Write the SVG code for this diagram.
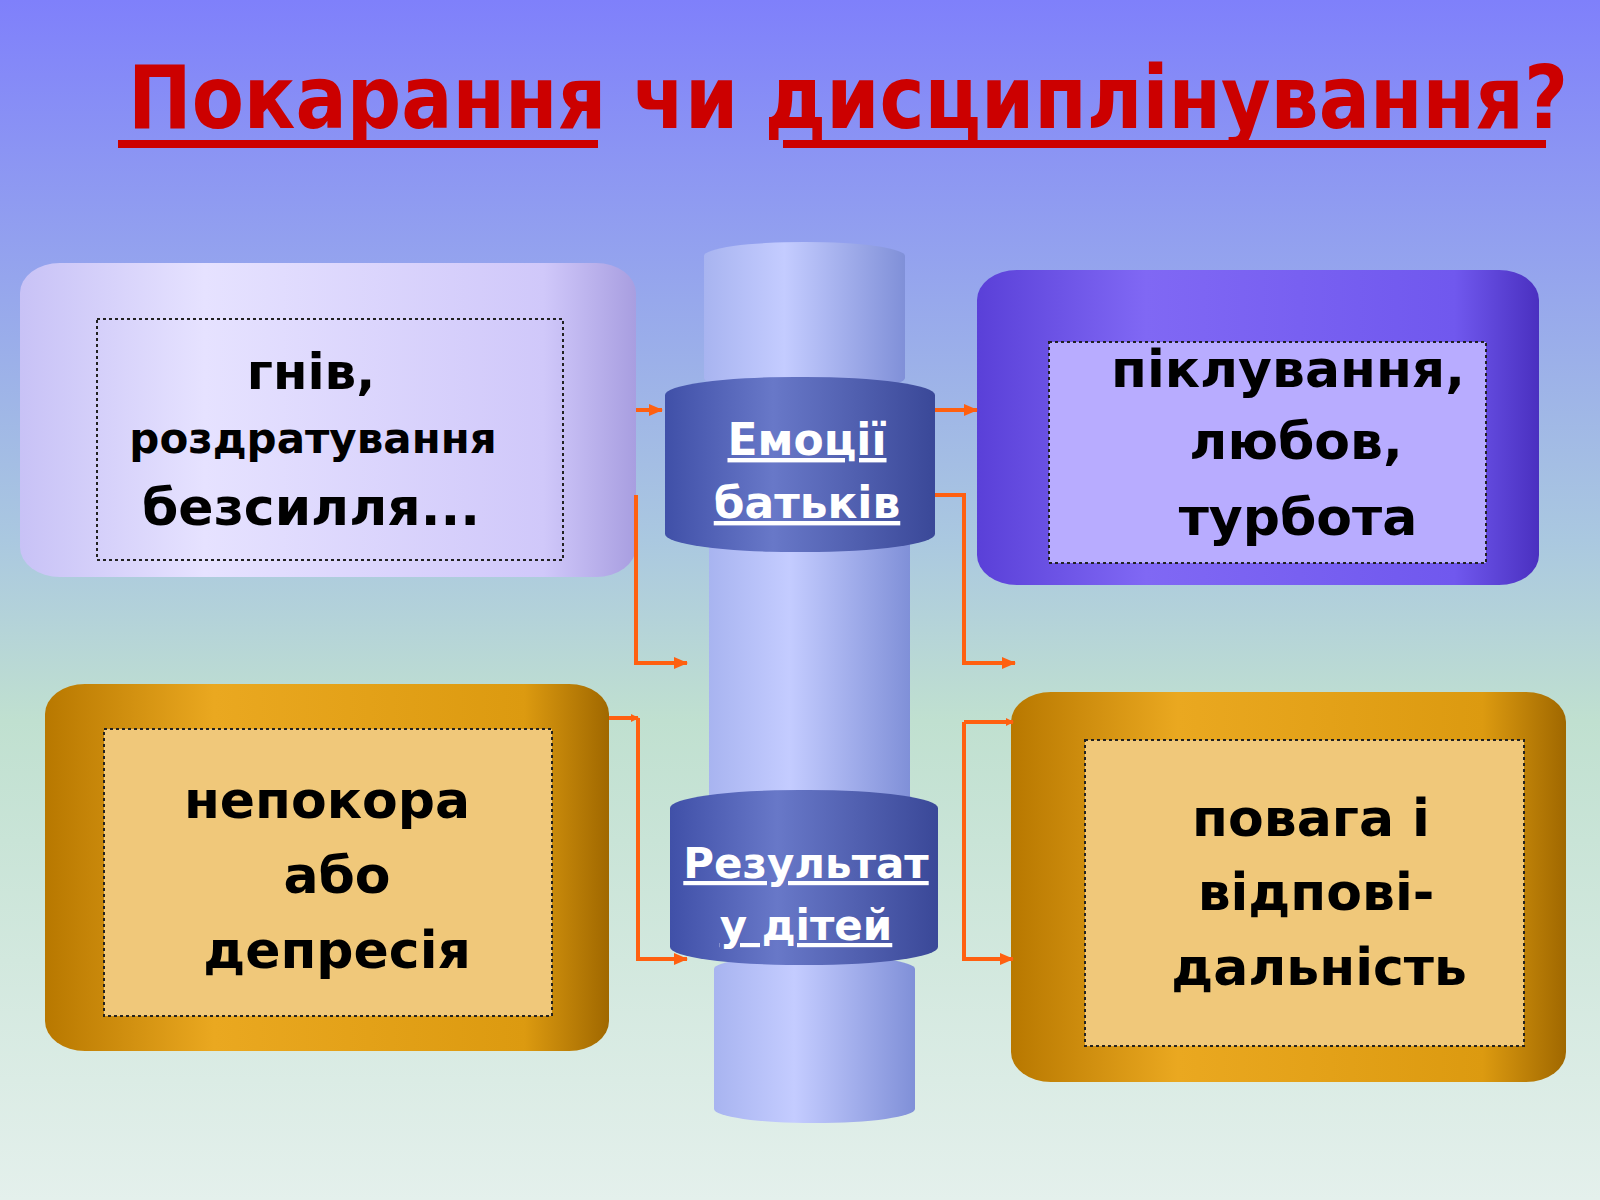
<svg xmlns="http://www.w3.org/2000/svg" width="1600" height="1200" viewBox="0 0 1600 1200">
<defs>
<linearGradient id="bg" x1="0" y1="0" x2="0" y2="1"><stop offset="0" stop-color="#7f80fb"/><stop offset="0.45" stop-color="#aac8e0"/><stop offset="0.6" stop-color="#c0e0d0"/><stop offset="1" stop-color="#e4f0ec"/></linearGradient>
<linearGradient id="lav" x1="0" y1="0" x2="1" y2="0"><stop offset="0" stop-color="#c8c2f6"/><stop offset="0.3" stop-color="#e6e2ff"/><stop offset="0.85" stop-color="#d0c8fa"/><stop offset="1" stop-color="#a89ee0"/></linearGradient>
<linearGradient id="pur" x1="0" y1="0" x2="1" y2="0"><stop offset="0" stop-color="#5a40d8"/><stop offset="0.3" stop-color="#8068f4"/><stop offset="0.85" stop-color="#7058ee"/><stop offset="1" stop-color="#4a30c0"/></linearGradient>
<linearGradient id="org" x1="0" y1="0" x2="1" y2="0"><stop offset="0" stop-color="#b87800"/><stop offset="0.3" stop-color="#eaa820"/><stop offset="0.85" stop-color="#dc9a10"/><stop offset="1" stop-color="#a06800"/></linearGradient>
<linearGradient id="col" x1="0" y1="0" x2="1" y2="0"><stop offset="0" stop-color="#a8b4f0"/><stop offset="0.4" stop-color="#c4ccff"/><stop offset="1" stop-color="#8090d8"/></linearGradient>
<linearGradient id="ring" x1="0" y1="0" x2="1" y2="0"><stop offset="0" stop-color="#4050a8"/><stop offset="0.4" stop-color="#6878c8"/><stop offset="1" stop-color="#3a4898"/></linearGradient>
<marker id="ah" markerWidth="8" markerHeight="8" refX="7" refY="4" orient="auto" markerUnits="userSpaceOnUse"><path d="M0,0 L8,4 L0,8 z" fill="#ff6010"/></marker>
<marker id="ah2" markerWidth="14" markerHeight="12" refX="13" refY="6" orient="auto" markerUnits="userSpaceOnUse"><path d="M0,0 L14,6 L0,12 z" fill="#ff6010"/></marker>
</defs>
<style>
.t{font-family:"DejaVu Sans",sans-serif;font-weight:bold;fill:#000;text-anchor:middle}
.w{font-family:"DejaVu Sans",sans-serif;font-weight:bold;fill:#fff;text-anchor:middle;text-decoration:underline}
.dot{fill:none;stroke:#222;stroke-width:2;stroke-dasharray:3,3}
.c{fill:none;stroke:#ff6010;stroke-width:4}
</style>
<rect width="1600" height="1200" fill="url(#bg)"/>
<g id="title">
<text x="848" y="128" font-family="DejaVu Sans, sans-serif" font-weight="bold" font-size="88" fill="#cc0000" text-anchor="middle" textLength="1440" lengthAdjust="spacingAndGlyphs">Покарання чи дисциплінування?</text>
<rect x="118" y="140" width="480" height="8" fill="#cc0000"/>
<rect x="783" y="140" width="763" height="8" fill="#cc0000"/>
</g>
<g id="column">
<rect x="704" y="242" width="201" height="150" rx="100" ry="14" fill="url(#col)"/>
<rect x="709" y="540" width="201" height="270" fill="url(#col)"/>
<rect x="714" y="955" width="201" height="168" rx="100" ry="14" fill="url(#col)"/>
</g>
<g id="ring1">
<rect x="665" y="377" width="270" height="175" rx="130" ry="18" fill="url(#ring)"/>
<text class="w" x="807" y="455" font-size="44">Емоції</text>
<text class="w" x="807" y="518" font-size="44">батьків</text>
</g>
<g id="ring2">
<rect x="670" y="790" width="268" height="175" rx="130" ry="18" fill="url(#ring)"/>
<text class="w" x="806" y="878" font-size="42">Результат</text>
<text class="w" x="806" y="940" font-size="42">у дітей</text>
</g>
<g id="box-tl">
<rect x="20" y="263" width="616" height="314" rx="40" ry="30" fill="url(#lav)"/>
<rect class="dot" x="97" y="319" width="466" height="241"/>
<text class="t" x="311" y="389" font-size="50">гнів,</text>
<text class="t" x="313" y="453" font-size="42">роздратування</text>
<text class="t" x="311" y="525" font-size="52">безсилля...</text>
</g>
<g id="box-tr">
<rect x="977" y="270" width="562" height="315" rx="40" ry="30" fill="url(#pur)"/>
<rect class="dot" x="1049" y="342" width="437" height="221" style="fill:#b8acff"/>
<text class="t" x="1288" y="387" font-size="52">піклування,</text>
<text class="t" x="1296" y="459" font-size="52">любов,</text>
<text class="t" x="1298" y="535" font-size="52">турбота</text>
</g>
<g id="box-bl">
<rect x="45" y="684" width="564" height="367" rx="40" ry="30" fill="url(#org)"/>
<rect class="dot" x="104" y="729" width="448" height="287" style="fill:#f0c87a"/>
<text class="t" x="327" y="818" font-size="52">непокора</text>
<text class="t" x="337" y="893" font-size="52">або</text>
<text class="t" x="337" y="968" font-size="52">депресія</text>
</g>
<g id="box-br">
<rect x="1011" y="692" width="555" height="390" rx="40" ry="30" fill="url(#org)"/>
<rect class="dot" x="1085" y="740" width="439" height="306" style="fill:#f0c87a"/>
<text class="t" x="1311" y="836" font-size="52">повага  і</text>
<text class="t" x="1316" y="910" font-size="52">відпові-</text>
<text class="t" x="1319" y="985" font-size="52">дальність</text>
</g>
<g id="connectors">
<path class="c" d="M636,410 H662" marker-end="url(#ah2)"/>
<path class="c" d="M636,495 V663 H687" marker-end="url(#ah2)"/>
<path class="c" d="M935,410 H977" marker-end="url(#ah2)"/>
<path class="c" d="M935,495 H964 V663 H1015" marker-end="url(#ah2)"/>
<path class="c" d="M609,718 H638" marker-end="url(#ah)"/>
<path class="c" d="M638,718 V959 H687" marker-end="url(#ah2)"/>
<path class="c" d="M964,722 H1013" marker-end="url(#ah)"/>
<path class="c" d="M964,722 V959 H1013" marker-end="url(#ah2)"/>
</g>
</svg>
